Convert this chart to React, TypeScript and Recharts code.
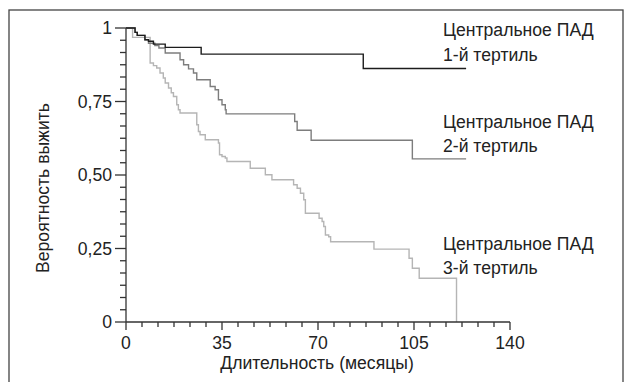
import React from 'react';
import { LineChart, Line, XAxis, YAxis } from 'recharts';

// ---- Data ----
const tertile1Months = [0, 3.3, 4.1, 6.9, 8.2, 10, 14.3, 27.4, 86.5, 124];
const tertile1Surv = [1, 0.985, 0.975, 0.96, 0.955, 0.945, 0.934, 0.911, 0.862, 0.862];

const tertile2Months = [0, 3.3, 4.1, 6.9, 8.2, 10.5, 12, 14.3, 19.7, 21, 22.8, 24.6, 25.8, 30.7, 32.5, 33.7, 35, 36.2, 36.5, 61.5, 62.4, 67.5, 104.4, 124];
const tertile2Surv = [1, 0.985, 0.975, 0.96, 0.948, 0.94, 0.932, 0.915, 0.892, 0.875, 0.861, 0.847, 0.824, 0.801, 0.79, 0.756, 0.739, 0.722, 0.708, 0.682, 0.652, 0.618, 0.555, 0.555];

const tertile3Months = [0, 2.4, 8.8, 10, 11.2, 12.4, 13.6, 14.3, 15.5, 16.5, 17.3, 18.5, 19.1, 19.7, 25.8, 26.4, 27, 28.9, 33.7, 34.1, 35, 36.2, 36.8, 45.3, 50.8, 53.2, 61.1, 62.4, 63.6, 64.8, 65.4, 70.4, 71.5, 72.1, 72.7, 73.9, 74.6, 90.4, 103.2, 104.4, 106.9, 120.5];
const tertile3Surv = [1, 0.968, 0.881, 0.872, 0.864, 0.847, 0.83, 0.813, 0.796, 0.78, 0.767, 0.739, 0.722, 0.711, 0.671, 0.648, 0.637, 0.62, 0.609, 0.569, 0.563, 0.558, 0.546, 0.523, 0.501, 0.484, 0.467, 0.455, 0.438, 0.416, 0.37, 0.353, 0.342, 0.325, 0.296, 0.29, 0.273, 0.248, 0.217, 0.183, 0.149, 0];

const xMajorTicks = [0, 35, 70, 105, 140];
const yMajorTicks = [0, 0.25, 0.5, 0.75, 1];
const yTickLabels = ['0', '0,25', '0,50', '0,75', '1'];
const seriesLabelTop = 'Центральное ПАД';
const seriesLabelBottom = ['1-й тертиль', '2-й тертиль', '3-й тертиль'];
const xTitle = 'Длительность (месяцы)';
const yTitle = 'Вероятность выжить';

const xAllTicks: number[] = [];
for (let i = 0; i <= 24; i++) xAllTicks.push((140 * i) / 24);
const yAllTicks: number[] = [];
for (let i = 0; i <= 24; i++) yAllTicks.push(i / 24);

const build = (t: number[], s: number[]) => t.map((m, i) => ({ t: m, s: s[i] }));
const data1 = build(tertile1Months, tertile1Surv);
const data2 = build(tertile2Months, tertile2Surv);
const data3 = build(tertile3Months, tertile3Surv);

const FONT = "'Liberation Sans', Arial, sans-serif";
const FS = 17.6;
const TEXT = '#222';
const AXIS = '#333';

const XTick = (props: any) => {
  const { x, y, payload } = props;
  const v = payload.value;
  const mi = xMajorTicks.findIndex((m) => Math.abs(m - v) < 1e-6);
  const major = mi >= 0;
  return (
    <g>
      <line x1={x} y1={y} x2={x} y2={y + (major ? 8 : 5)} stroke={AXIS} strokeWidth={1.3} />
      {major && (
        <text x={x} y={y + 21} textAnchor="middle" dominantBaseline="central" fontFamily={FONT} fontSize={FS} fill={TEXT}>
          {xMajorTicks[mi]}
        </text>
      )}
    </g>
  );
};

const YTick = (props: any) => {
  const { x, y, payload } = props;
  const v = payload.value;
  const mi = yMajorTicks.findIndex((m) => Math.abs(m - v) < 1e-6);
  const major = mi >= 0;
  return (
    <g>
      <line x1={x} y1={y} x2={x - (major ? 11 : 6)} y2={y} stroke={AXIS} strokeWidth={1.3} />
      {major && (
        <text x={x - 14} y={y} textAnchor="end" dominantBaseline="central" fontFamily={FONT} fontSize={FS} fill={TEXT}>
          {yTickLabels[mi]}
        </text>
      )}
    </g>
  );
};

const labelYs = [[30, 54.5], [121.5, 146], [243.5, 268]];

export default function App() {
  return (
    <div style={{ position: 'absolute', left: 0, top: 0, width: 631, height: 382, background: '#fff' }}>
      <LineChart width={631} height={382} margin={{ top: 28, right: 121, bottom: 20, left: 66 }}>
        <rect x={9} y={10} width={614} height={380} fill="none" stroke="#444" strokeWidth={1.3} />
        <XAxis
          type="number"
          dataKey="t"
          domain={[0, 140]}
          ticks={xAllTicks}
          interval={0}
          tickSize={0}
          tickMargin={0}
          tick={<XTick />}
          tickLine={false}
          axisLine={{ stroke: AXIS, strokeWidth: 1.3 }}
          height={40}
          allowDataOverflow
        />
        <YAxis
          type="number"
          domain={[0, 1]}
          ticks={yAllTicks}
          interval={0}
          tickSize={0}
          tickMargin={0}
          tick={<YTick />}
          tickLine={false}
          axisLine={{ stroke: AXIS, strokeWidth: 1.3 }}
          width={60}
        />
        <Line data={data3} dataKey="s" type="stepAfter" stroke="#b5b5b5" strokeWidth={1.4} dot={false} isAnimationActive={false} />
        <Line data={data2} dataKey="s" type="stepAfter" stroke="#7d7d7d" strokeWidth={1.4} dot={false} isAnimationActive={false} />
        <Line data={data1} dataKey="s" type="stepAfter" stroke="#1c1c1c" strokeWidth={1.4} dot={false} isAnimationActive={false} />
        {labelYs.map((ys, i) => (
          <g key={i}>
            <text x={443} y={ys[0]} dominantBaseline="central" fontFamily={FONT} fontSize={FS} fill={TEXT}>{seriesLabelTop}</text>
            <text x={443} y={ys[1]} dominantBaseline="central" fontFamily={FONT} fontSize={FS} fill={TEXT}>{seriesLabelBottom[i]}</text>
          </g>
        ))}
        <text x={317} y={363} textAnchor="middle" dominantBaseline="central" fontFamily={FONT} fontSize={FS} fill={TEXT}>{xTitle}</text>
        <text x={43} y={188} textAnchor="middle" dominantBaseline="central" fontFamily={FONT} fontSize={FS} fill={TEXT} transform="rotate(-90 43 188)">{yTitle}</text>
      </LineChart>
    </div>
  );
}
